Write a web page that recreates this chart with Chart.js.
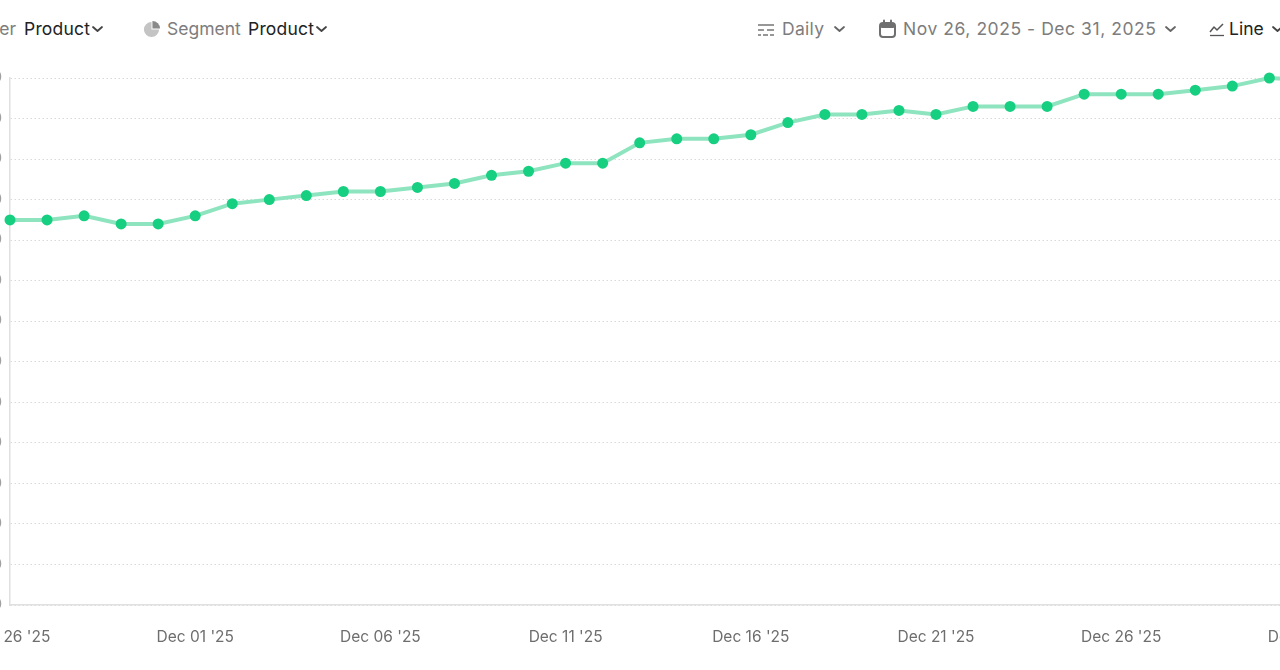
<!DOCTYPE html>
<html>
<head>
<meta charset="utf-8">
<script src="https://cdn.jsdelivr.net/npm/chart.js@4.4.1/dist/chart.umd.min.js"></script>
<style>
  html,body{margin:0;padding:0;width:1280px;height:670px;overflow:hidden;background:#fff;font-family:Inter,"Noto Sans",sans-serif;}
  .t{position:absolute;top:18px;font-size:17.5px;line-height:22px;white-space:nowrap;}
  .g{color:#7d7d7d;}
  .d{color:#222;}
  svg{position:absolute;}
  #wrap{position:absolute;left:-60px;top:60px;width:1428px;height:611px;}
</style>
</head>
<body>
<div class="t g" style="right:1264px;">Filter</div>
<div class="t d" style="left:24px;letter-spacing:0.2px;">Product</div>
<svg style="left:91px;top:24px" width="13" height="10" viewBox="0 0 13 10"><path d="M2 3 L6.5 7 L11 3" fill="none" stroke="#444" stroke-width="1.8" stroke-linecap="round" stroke-linejoin="round"/></svg>

<svg style="left:142px;top:20px" width="19" height="19" viewBox="0 0 20 20"><path d="M10 2 A8 8 0 1 0 18 10 L10 10 Z" fill="#c4c4c4"/><path d="M11 1 A8 8 0 0 1 19 9 L11 9 Z" fill="#8a8a8a"/></svg>
<div class="t g" style="left:167px;">Segment</div>
<div class="t d" style="left:248px;letter-spacing:0.2px;">Product</div>
<svg style="left:315px;top:24px" width="13" height="10" viewBox="0 0 13 10"><path d="M2 3 L6.5 7 L11 3" fill="none" stroke="#444" stroke-width="1.8" stroke-linecap="round" stroke-linejoin="round"/></svg>

<svg style="left:757px;top:22px" width="18" height="16" viewBox="0 0 18 16"><g stroke="#7d7d7d" stroke-width="1.6"><line x1="1" y1="3" x2="17" y2="3"/><line x1="1" y1="8" x2="7" y2="8"/><line x1="10" y1="8" x2="17" y2="8"/><line x1="1" y1="13" x2="4" y2="13"/><line x1="6" y1="13" x2="11" y2="13"/><line x1="13" y1="13" x2="17" y2="13"/></g></svg>
<div class="t g" style="left:782px;letter-spacing:0.3px;">Daily</div>
<svg style="left:833px;top:24px" width="13" height="10" viewBox="0 0 13 10"><path d="M2 3 L6.5 7 L11 3" fill="none" stroke="#666" stroke-width="1.8" stroke-linecap="round" stroke-linejoin="round"/></svg>

<svg style="left:878px;top:19px" width="19" height="20" viewBox="0 0 19 20"><rect x="2" y="4" width="15" height="14" rx="3" fill="none" stroke="#6f6f6f" stroke-width="2"/><rect x="2" y="4" width="15" height="5" rx="2" fill="#6f6f6f"/><line x1="6" y1="1.5" x2="6" y2="5" stroke="#6f6f6f" stroke-width="2" stroke-linecap="round"/><line x1="13" y1="1.5" x2="13" y2="5" stroke="#6f6f6f" stroke-width="2" stroke-linecap="round"/></svg>
<div class="t g" style="left:903px;letter-spacing:0.55px;">Nov 26, 2025 - Dec 31, 2025</div>
<svg style="left:1164px;top:24px" width="13" height="10" viewBox="0 0 13 10"><path d="M2 3 L6.5 7 L11 3" fill="none" stroke="#666" stroke-width="1.8" stroke-linecap="round" stroke-linejoin="round"/></svg>

<svg style="left:1209px;top:21px" width="16" height="16" viewBox="0 0 16 16"><path d="M1 11 L5 6 L8 9 L14 3" fill="none" stroke="#555" stroke-width="1.5" stroke-linejoin="round"/><line x1="1" y1="14.5" x2="15" y2="14.5" stroke="#555" stroke-width="1.3"/></svg>
<div class="t d" style="left:1229px;">Line</div>
<svg style="left:1271px;top:24px" width="13" height="10" viewBox="0 0 13 10"><path d="M2 3 L6.5 7 L11 3" fill="none" stroke="#444" stroke-width="1.8" stroke-linecap="round" stroke-linejoin="round"/></svg>

<div id="wrap"><canvas id="c"></canvas></div>
<script>
const categories = ["Nov 26 '25","Nov 27 '25","Nov 28 '25","Nov 29 '25","Nov 30 '25",
  "Dec 01 '25","Dec 02 '25","Dec 03 '25","Dec 04 '25","Dec 05 '25",
  "Dec 06 '25","Dec 07 '25","Dec 08 '25","Dec 09 '25","Dec 10 '25",
  "Dec 11 '25","Dec 12 '25","Dec 13 '25","Dec 14 '25","Dec 15 '25",
  "Dec 16 '25","Dec 17 '25","Dec 18 '25","Dec 19 '25","Dec 20 '25",
  "Dec 21 '25","Dec 22 '25","Dec 23 '25","Dec 24 '25","Dec 25 '25",
  "Dec 26 '25","Dec 27 '25","Dec 28 '25","Dec 29 '25","Dec 30 '25","Dec 31 '25"];
const productValues = [950,950,960,940,940,960,990,1000,1010,1020,1020,1030,1040,1060,1070,
  1090,1090,1140,1150,1150,1160,1190,1210,1210,1220,1210,1230,1230,1230,1260,
  1260,1260,1270,1280,1300,1295];
const yTicks = [0,100,200,300,400,500,600,700,800,900,1000,1100,1200,1300];

new Chart(document.getElementById('c'), {
  type: 'line',
  data: {
    labels: categories,
    datasets: [{
      label: 'Product',
      data: productValues,
      borderColor: '#8ee4bf',
      borderWidth: 4,
      backgroundColor: '#16cf80',
      pointBackgroundColor: '#16cf80',
      pointBorderWidth: 0,
      pointRadius: 5.5,
      tension: 0,
      clip: false
    }]
  },
  options: {
    responsive: true,
    maintainAspectRatio: false,
    animation: false,
    layout: { padding: { top: 18, right: 50, left: 0, bottom: 0 } },
    plugins: { legend: { display: false }, tooltip: { enabled: false } },
    scales: {
      x: {
        grid: { display: false, drawTicks: false },
        border: { display: true, color: '#e0e0e0', width: 1.5 },
        ticks: {
          autoSkip: false, maxRotation: 0, padding: 23,
          color: '#6e6e6e', font: { family: 'Inter', size: 15.5 },
          callback: function(v, i){ return i % 5 === 0 ? categories[i] : ''; }
        },
        afterFit: function(s){ s.height = 66; }
      },
      y: {
        min: yTicks[0], max: yTicks[yTicks.length-1],
        afterBuildTicks: function(s){ s.ticks = yTicks.map(v => ({value: v})); },
        grid: { color: '#dadada', lineWidth: 1, drawTicks: false },
        border: { display: true, color: '#e0e0e0', width: 1.5, dash: [1.5,2.5] },
        ticks: { color: '#a0a0a0', padding: 8, font: { family: 'Inter', size: 14 } },
        afterFit: function(s){ s.width = 70; }
      }
    }
  }
});
</script>
</body>
</html>
